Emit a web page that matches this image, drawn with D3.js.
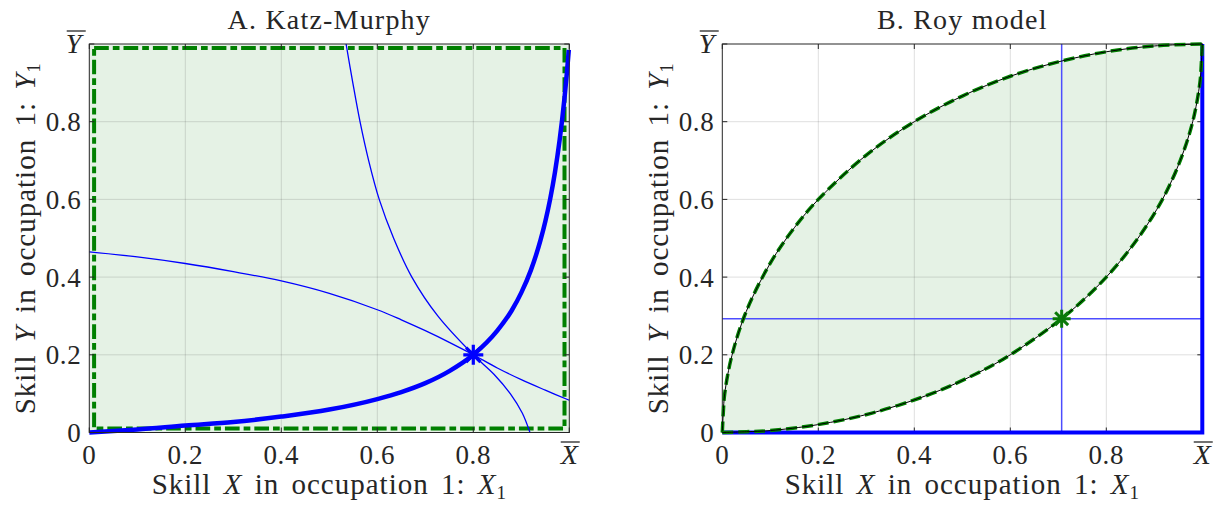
<!DOCTYPE html>
<html>
<head>
<meta charset="utf-8">
<script src="https://cdn.jsdelivr.net/npm/d3@7"></script>
<style>
  body { margin: 0; background: #fff; }
  svg { display: block; }
  text { font-family: "Liberation Serif", "Times New Roman", serif; fill: #262626; }
</style>
</head>
<body>
<svg id="chart" width="1219" height="506"></svg>
<script>
"use strict";

// ticks shared by both panels
var tickValues = [0, 0.2, 0.4, 0.6, 0.8, 1];
var xTickLabels = ["0", "0.2", "0.4", "0.6", "0.8", "X"];
var yTickLabels = ["0", "0.2", "0.4", "0.6", "0.8", "Y"];
var gridValues = [0.2, 0.4, 0.6, 0.8];
var panelTitles = ["A. Katz-Murphy", "B. Roy model"];

// Panel A: Katz-Murphy
var kmThick = [
  [0, 0], [0.05, 0.004], [0.1, 0.008], [0.2, 0.018], [0.3, 0.027], [0.4, 0.041],
  [0.5, 0.059], [0.6, 0.086], [0.65, 0.104], [0.7, 0.127], [0.75, 0.158],
  [0.8, 0.2], [0.85, 0.262], [0.88, 0.314], [0.9, 0.36], [0.92, 0.418],
  [0.94, 0.495], [0.95, 0.543], [0.96, 0.6], [0.97, 0.669], [0.98, 0.754],
  [0.985, 0.804], [0.99, 0.861], [0.995, 0.926], [0.999, 0.985]
];
var kmSteep = [
  [0.535, 1.0], [0.549, 0.9], [0.564, 0.8], [0.582, 0.7], [0.604, 0.6],
  [0.634, 0.5], [0.672, 0.4], [0.726, 0.3], [0.8, 0.2], [0.843, 0.15],
  [0.877, 0.1], [0.902, 0.05], [0.918, 0]
];
var kmFlat = [
  [0, 0.465], [0.1, 0.452], [0.2, 0.435], [0.3, 0.414], [0.4, 0.39],
  [0.5, 0.358], [0.6, 0.316], [0.65, 0.29], [0.7, 0.262], [0.75, 0.232],
  [0.8, 0.2], [0.85, 0.166], [0.9, 0.136], [0.95, 0.109], [1.0, 0.083]
];
var kmStar = [0.8, 0.2];
var kmRect = [0.01, 0.99];

// Panel B: Roy model
var royUpper = [
  [0, 0], [0.002, 0.05], [0.005, 0.1], [0.02, 0.198], [0.05, 0.312],
  [0.1, 0.436], [0.15, 0.527], [0.2, 0.6], [0.3, 0.714], [0.4, 0.8],
  [0.5, 0.866], [0.6, 0.917], [0.7, 0.954], [0.8, 0.98], [0.9, 0.995], [1, 1]
];
var royLower = [
  [0, 0], [0.05, 0.002], [0.1, 0.005], [0.198, 0.02], [0.312, 0.05],
  [0.436, 0.1], [0.527, 0.15], [0.6, 0.2], [0.714, 0.3], [0.8, 0.4],
  [0.866, 0.5], [0.917, 0.6], [0.954, 0.7], [0.98, 0.8], [0.995, 0.9],
  [0.998, 0.95], [1, 1]
];
var royStar = [0.707, 0.293];

var svg = d3.select("#chart");
var green = "#008000";
var blue = "#0000ff";

var panels = [
  { left: 89.3, right: 569.3, top: 44, bottom: 432.5, labelX: 35 },
  { left: 722.3, right: 1202.3, top: 44, bottom: 432.5, labelX: 668 }
];

function starPath(cx, cy, r) {
  var d = r * 0.72;
  return "M" + (cx - r) + "," + cy + "H" + (cx + r) +
    "M" + cx + "," + (cy - r) + "V" + (cy + r) +
    "M" + (cx - d) + "," + (cy - d) + "L" + (cx + d) + "," + (cy + d) +
    "M" + (cx - d) + "," + (cy + d) + "L" + (cx + d) + "," + (cy - d);
}

function barText(g, x, y, str, anchor) {
  var t = g.append("text")
    .attr("x", x).attr("y", y)
    .attr("text-anchor", anchor)
    .style("font-style", "italic")
    .style("font-size", "28px")
    .text(str);
  var bb = t.node().getBBox();
  g.append("line")
    .attr("x1", bb.x + 1).attr("x2", bb.x + bb.width + 1)
    .attr("y1", bb.y + 3).attr("y2", bb.y + 3)
    .style("stroke", "#262626").style("stroke-width", 1.3);
}

function axisLabel(g, varName) {
  g.append("tspan").text("Skill ");
  g.append("tspan").text(varName).style("font-style", "italic");
  g.append("tspan").text(" in occupation 1:  ");
  g.append("tspan").text(varName).style("font-style", "italic");
  g.append("tspan").text("1").attr("dy", 5).style("font-size", "19px");
}

function drawFrame(g, p, x, y) {
  var ink = "#262626";
  g.selectAll("line.gx").data(gridValues).enter().append("line")
    .attr("class", "gx")
    .attr("x1", function (d) { return x(d); }).attr("x2", function (d) { return x(d); })
    .attr("y1", p.top).attr("y2", p.bottom)
    .style("stroke", ink).style("stroke-opacity", 0.15).style("stroke-width", 1);
  g.selectAll("line.gy").data(gridValues).enter().append("line")
    .attr("class", "gy")
    .attr("y1", function (d) { return y(d); }).attr("y2", function (d) { return y(d); })
    .attr("x1", p.left).attr("x2", p.right)
    .style("stroke", ink).style("stroke-opacity", 0.15).style("stroke-width", 1);
}

function drawBox(g, p, x, y, i) {
  var ink = "#262626";
  var tl = 5;
  g.append("rect")
    .attr("x", p.left).attr("y", p.top)
    .attr("width", p.right - p.left).attr("height", p.bottom - p.top)
    .style("fill", "none").style("stroke", ink).style("stroke-width", 1);
  tickValues.forEach(function (v) {
    g.append("line").attr("x1", x(v)).attr("x2", x(v)).attr("y1", p.bottom).attr("y2", p.bottom - tl)
      .style("stroke", ink);
    g.append("line").attr("x1", x(v)).attr("x2", x(v)).attr("y1", p.top).attr("y2", p.top + tl)
      .style("stroke", ink);
    g.append("line").attr("y1", y(v)).attr("y2", y(v)).attr("x1", p.left).attr("x2", p.left + tl)
      .style("stroke", ink);
    g.append("line").attr("y1", y(v)).attr("y2", y(v)).attr("x1", p.right).attr("x2", p.right - tl)
      .style("stroke", ink);
  });

  // tick labels
  xTickLabels.forEach(function (lab, k) {
    if (k === xTickLabels.length - 1) {
      barText(g, x(tickValues[k]), 464, lab, "middle");
    } else {
      g.append("text").attr("x", x(tickValues[k])).attr("y", 464)
        .attr("text-anchor", "middle").style("font-size", "27px")
        .style("letter-spacing", "0.6px").text(lab);
    }
  });
  yTickLabels.forEach(function (lab, k) {
    if (k === yTickLabels.length - 1) {
      barText(g, p.left - 8, y(tickValues[k]) + 9, lab, "end");
    } else {
      g.append("text").attr("x", p.left - 8).attr("y", y(tickValues[k]) + 9.5)
        .attr("text-anchor", "end").style("font-size", "27px")
        .style("letter-spacing", "0.6px").text(lab);
    }
  });

  // titles and axis labels
  g.append("text").attr("x", (p.left + p.right) / 2).attr("y", 29)
    .attr("text-anchor", "middle").style("font-size", "28px")
    .style("letter-spacing", "1.2px").text(panelTitles[i]);
  var xl = g.append("text").attr("x", (p.left + p.right) / 2).attr("y", 494)
    .attr("text-anchor", "middle").style("font-size", "29px")
    .style("letter-spacing", "1px").style("word-spacing", "4px");
  axisLabel(xl, "X");
  var yl = g.append("text")
    .attr("transform", "translate(" + p.labelX + "," + ((p.top + p.bottom) / 2) + ") rotate(-90)")
    .attr("text-anchor", "middle").style("font-size", "29px")
    .style("letter-spacing", "1px").style("word-spacing", "4px");
  axisLabel(yl, "Y");
}

function scalesFor(p) {
  return {
    x: d3.scaleLinear().domain([0, 1]).range([p.left, p.right]),
    y: d3.scaleLinear().domain([0, 1]).range([p.bottom, p.top])
  };
}

// ---------- Panel A ----------
(function () {
  var p = panels[0];
  var s = scalesFor(p), x = s.x, y = s.y;
  var g = svg.append("g");
  var line = d3.line().x(function (d) { return x(d[0]); }).y(function (d) { return y(d[1]); })
    .curve(d3.curveMonotoneX);

  g.append("rect").attr("x", x(0)).attr("y", y(1))
    .attr("width", x(1) - x(0)).attr("height", y(0) - y(1))
    .style("fill", green).style("fill-opacity", 0.1);
  drawFrame(g, p, x, y);

  g.append("rect")
    .attr("x", x(kmRect[0])).attr("y", y(kmRect[1]))
    .attr("width", x(kmRect[1]) - x(kmRect[0])).attr("height", y(kmRect[0]) - y(kmRect[1]))
    .style("fill", "none").style("stroke", green).style("stroke-width", 4)
    .style("stroke-dasharray", "14.7,4,6.7,4");

  var smooth = d3.line().x(function (d) { return x(d[0]); }).y(function (d) { return y(d[1]); })
    .curve(d3.curveCatmullRom.alpha(0.5));
  g.append("path").datum(kmSteep).attr("d", smooth)
    .style("fill", "none").style("stroke", blue).style("stroke-width", 1.3);
  g.append("path").datum(kmFlat).attr("d", smooth)
    .style("fill", "none").style("stroke", blue).style("stroke-width", 1.3);
  g.append("path").datum(kmThick).attr("d", line)
    .style("fill", "none").style("stroke", blue).style("stroke-width", 4.5);
  g.append("path").attr("d", starPath(x(kmStar[0]), y(kmStar[1]), 10))
    .style("stroke", blue).style("stroke-width", 3.2).style("fill", "none");

  drawBox(g, p, x, y, 0);
})();

// ---------- Panel B ----------
(function () {
  var p = panels[1];
  var s = scalesFor(p), x = s.x, y = s.y;
  var g = svg.append("g");
  var line = d3.line().x(function (d) { return x(d[0]); }).y(function (d) { return y(d[1]); })
    .curve(d3.curveCatmullRom);

  var lens = royUpper.concat(royLower.slice().reverse());
  g.append("path").datum(lens)
    .attr("d", d3.line().x(function (d) { return x(d[0]); }).y(function (d) { return y(d[1]); }).curve(d3.curveCatmullRomClosed))
    .style("fill", green).style("fill-opacity", 0.1).style("stroke", "none");
  drawFrame(g, p, x, y);

  // threshold lines through the star
  g.append("line").attr("x1", x(royStar[0])).attr("x2", x(royStar[0]))
    .attr("y1", y(0)).attr("y2", y(1))
    .style("stroke", "#4d4dff").style("stroke-width", 1.5);
  g.append("line").attr("x1", x(0)).attr("x2", x(1))
    .attr("y1", y(royStar[1])).attr("y2", y(royStar[1]))
    .style("stroke", "#4d4dff").style("stroke-width", 1.5);

  drawBox(g, p, x, y, 1);

  // thick blue boundary along bottom and right
  g.append("path")
    .attr("d", "M" + x(0) + "," + y(0) + "H" + x(1) + "V" + y(1))
    .style("fill", "none").style("stroke", blue).style("stroke-width", 4);

  [royUpper, royLower].forEach(function (c) {
    g.append("path").datum(c).attr("d", line)
      .style("fill", "none").style("stroke", green).style("stroke-width", 3.5)
      .style("stroke-dasharray", "11,5");
    g.append("path").datum(c).attr("d", line)
      .style("fill", "none").style("stroke", "#000").style("stroke-width", 1);
  });

  g.append("path").attr("d", starPath(x(royStar[0]), y(royStar[1]), 9))
    .style("stroke", "#0a7a0a").style("stroke-width", 3).style("fill", "none");
})();
</script>
</body>
</html>
